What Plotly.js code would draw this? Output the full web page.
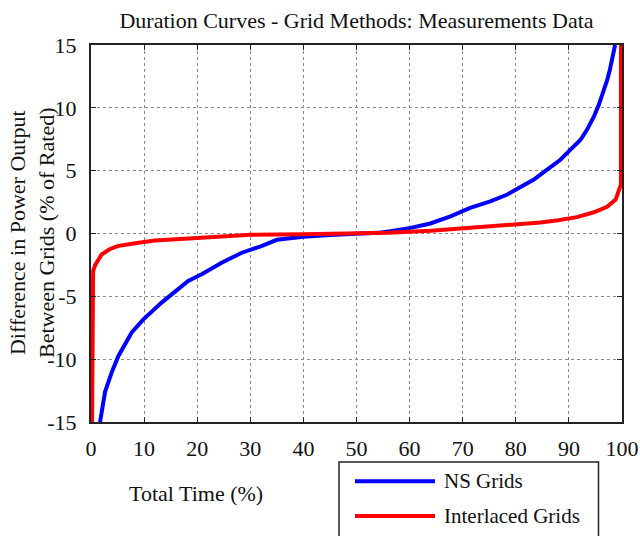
<!DOCTYPE html>
<html>
<head>
<meta charset="utf-8">
<script src="https://cdn.plot.ly/plotly-3.0.1.min.js"></script>
<style>html,body{margin:0;padding:0;background:#fff;}#chart{width:640px;height:536px;}</style>
</head>
<body>
<div id="chart"></div>
<script>
// NS Grids duration curve
var nsX = [1.7, 2.65, 3.9, 5.16, 7.67, 9.87, 13.3, 15.8, 18.3, 20.85, 24.6, 28.4, 32.1, 35, 40, 45, 50, 54, 56.4, 60.2, 63.9, 67.7, 71.4, 75.2, 78.4, 80.9, 83.4, 85.9, 88.4, 90.3, 92.2, 93.4, 94.7, 95.6, 96.5, 97.2, 97.7, 98.2, 98.7];
var nsY = [-15, -12.6, -11.05, -9.74, -7.88, -6.83, -5.5, -4.66, -3.78, -3.25, -2.33, -1.53, -1.0, -0.5, -0.25, -0.12, -0.03, 0.05, 0.18, 0.45, 0.8, 1.37, 2.04, 2.56, 3.1, 3.7, 4.29, 5.08, 5.87, 6.67, 7.46, 8.25, 9.3, 10.2, 11.2, 12.2, 13, 14.2, 15];
// Interlaced Grids duration curve
var ilX = [0.2, 0.3, 0.4, 0.8, 2, 3.5, 5, 8, 12, 20, 30, 40, 50, 56, 64, 70, 76.5, 84.6, 88, 91.5, 94.7, 97.2, 98.8, 99.4, 99.8, 99.8];
var ilY = [-15, -5, -3.0, -2.5, -1.67, -1.25, -1.0, -0.8, -0.55, -0.35, -0.1, -0.05, 0.0, 0.05, 0.22, 0.40, 0.62, 0.88, 1.05, 1.3, 1.69, 2.12, 2.7, 3.5, 3.9, 15];
var seriesNames = ["NS Grids", "Interlaced Grids"];
var seriesColors = ["#0000ff", "#ff0000"];
var xTicks = [0, 10, 20, 30, 40, 50, 60, 70, 80, 90, 100];
var xTickText = ["0", "10", "20", "30", "40", "50", "60", "70", "80", "90", "100"];
var yTicks = [-15, -10, -5, 0, 5, 10, 15];
var yTickText = ["-15", "-10", "-5", "0", "5", "10", "15"];
var chartTitle = "Duration Curves - Grid Methods: Measurements Data";
var xTitle = "Total Time (%)";
var yTitle = "Difference in Power Output<br>Between Grids (% of Rated)";

var font = "Liberation Serif, Times New Roman, serif";

var traces = [
  {x: nsX, y: nsY, mode: "lines", name: seriesNames[0], line: {color: seriesColors[0], width: 4}, showlegend: false},
  {x: ilX, y: ilY, mode: "lines", name: seriesNames[1], line: {color: seriesColors[1], width: 4}, showlegend: false}
];

// manual legend (paper coords)
var L = 91, R = 622, T = 44.5, B = 422.5;
function px(v){ return (v - L) / (R - L); }
function py(v){ return (B - v) / (B - T); }

var shapes = [
  {type: "rect", xref: "paper", yref: "paper", x0: px(339), x1: px(598.5), y0: py(545), y1: py(462.7), line: {color: "#222", width: 1.5}, fillcolor: "rgba(0,0,0,0)"},
  {type: "line", xref: "paper", yref: "paper", x0: px(355), x1: px(435), y0: py(482), y1: py(482), line: {color: seriesColors[0], width: 4}},
  {type: "line", xref: "paper", yref: "paper", x0: px(355), x1: px(435), y0: py(516.7), y1: py(516.7), line: {color: seriesColors[1], width: 4}}
];
var annotations = [
  {xref: "paper", yref: "paper", x: px(442), y: py(482), text: seriesNames[0], showarrow: false, xanchor: "left", yanchor: "middle", font: {family: font, size: 21, color: "#111"}},
  {xref: "paper", yref: "paper", x: px(442), y: py(516.7), text: seriesNames[1], showarrow: false, xanchor: "left", yanchor: "middle", font: {family: font, size: 21, color: "#111"}},
  {xref: "paper", yref: "paper", x: px(196), y: py(494), text: xTitle, showarrow: false, xanchor: "center", yanchor: "middle", font: {family: font, size: 22, color: "#111"}},
  {xref: "paper", yref: "paper", x: px(32), y: py(233), text: yTitle, showarrow: false, textangle: -90, xanchor: "center", yanchor: "middle", font: {family: font, size: 22, color: "#111"}}
];

var layout = {
  width: 640, height: 536,
  margin: {l: L, r: 640 - R, t: T, b: 536 - B, pad: 0},
  paper_bgcolor: "#fff", plot_bgcolor: "#fff",
  font: {family: font, size: 22, color: "#111"},
  title: {text: chartTitle, font: {family: font, size: 22, color: "#111"}, x: 0.5, xref: "paper", xanchor: "center", y: 1 - 20/536, yanchor: "middle"},
  xaxis: {range: [0, 100], tickvals: xTicks, ticktext: xTickText, ticks: "inside", ticklen: 5, tickcolor: "#222",
    showline: true, linecolor: "#222", linewidth: 2, mirror: "ticks", showgrid: true, gridcolor: "#8a8a8a", griddash: "dot", gridwidth: 1,
    zeroline: false, tickfont: {family: font, size: 22, color: "#111"}, ticklabelstandoff: 6},
  yaxis: {range: [-15, 15], tickvals: yTicks, ticktext: yTickText, ticks: "inside", ticklen: 5, tickcolor: "#222",
    showline: true, linecolor: "#222", linewidth: 2, mirror: "ticks", showgrid: true, gridcolor: "#8a8a8a", griddash: "dot", gridwidth: 1,
    zeroline: false, tickfont: {family: font, size: 22, color: "#111"}, ticklabelstandoff: 8},
  shapes: shapes,
  annotations: annotations,
  showlegend: false
};

Plotly.newPlot("chart", traces, layout, {staticPlot: true, displayModeBar: false});
</script>
</body>
</html>
